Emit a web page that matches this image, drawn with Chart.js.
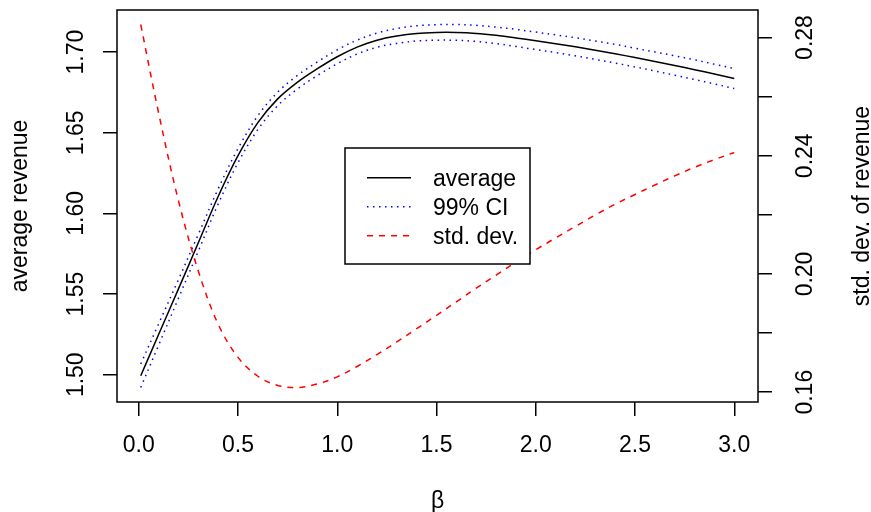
<!DOCTYPE html>
<html>
<head>
<meta charset="utf-8">
<script src="https://cdn.jsdelivr.net/npm/chart.js@4.4.1/dist/chart.umd.min.js"></script>
<style>
  html, body { margin: 0; padding: 0; background: #fff; }
  #wrap { width: 871px; height: 512px; }
</style>
</head>
<body>
<div id="wrap"><canvas id="chart" width="871" height="512"></canvas></div>
<script>
// values
const beta = [0.01, 0.1, 0.2, 0.3, 0.4, 0.5, 0.6, 0.7, 0.8, 0.9, 1.0, 1.1, 1.2, 1.3, 1.4, 1.5,
              1.6, 1.7, 1.8, 1.9, 2.0, 2.1, 2.2, 2.3, 2.4, 2.5, 2.6, 2.7, 2.8, 2.9, 3.0];
const avgRevenue = [1.4994, 1.5249, 1.5532, 1.5818, 1.6105, 1.6358, 1.6563, 1.6710, 1.6814, 1.6897,
                    1.6971, 1.7031, 1.7074, 1.7100, 1.7116, 1.7122, 1.7122, 1.7116, 1.7104, 1.7088,
                    1.7070, 1.7052, 1.7033, 1.7012, 1.6990, 1.6966, 1.6942, 1.6917, 1.6891, 1.6864, 1.6836];
const ciLower = [1.4921, 1.5183, 1.5474, 1.5766, 1.6058, 1.6314, 1.6520, 1.6668, 1.6772, 1.6855,
                 1.6928, 1.6988, 1.7030, 1.7054, 1.7069, 1.7074, 1.7073, 1.7066, 1.7053, 1.7035,
                 1.7016, 1.6997, 1.6977, 1.6955, 1.6932, 1.6908, 1.6883, 1.6857, 1.6830, 1.6803, 1.6774];
const ciUpper = [1.5067, 1.5315, 1.5590, 1.5870, 1.6152, 1.6402, 1.6606, 1.6752, 1.6856, 1.6939,
                 1.7014, 1.7074, 1.7118, 1.7146, 1.7163, 1.7170, 1.7171, 1.7166, 1.7155, 1.7141,
                 1.7124, 1.7107, 1.7089, 1.7069, 1.7048, 1.7024, 1.7001, 1.6977, 1.6952, 1.6925, 1.6898];
const sdRevenue = [0.2844, 0.2545, 0.2248, 0.2010, 0.1830, 0.1718, 0.1654, 0.1623, 0.1616, 0.1628,
                   0.1652, 0.1687, 0.1727, 0.1770, 0.1815, 0.1860, 0.1906, 0.1952, 0.1996, 0.2040,
                   0.2082, 0.2122, 0.2161, 0.2200, 0.2236, 0.2269, 0.2301, 0.2332, 0.2361, 0.2387, 0.2411];

const xTicks = [0, 0.5, 1.0, 1.5, 2.0, 2.5, 3.0];
const yTicks = [1.50, 1.55, 1.60, 1.65, 1.70];
const y2Ticks = [0.16, 0.18, 0.20, 0.22, 0.24, 0.26, 0.28];
const y2Labels = [0.16, 0.20, 0.24, 0.28];
const legendLabels = ["average", "99% CI", "std. dev."];

const FONT = '23px "Liberation Sans", Arial, sans-serif';
const LINE = 28; // one margin line, px

// R style axis range: data range plus 4% on each side
const pad = (lo, hi) => [lo - (hi - lo) * 0.04, hi + (hi - lo) * 0.04];
const xr = pad(Math.min(...beta), Math.max(...beta));
const yr = pad(Math.min(...ciLower), Math.max(...ciUpper));
const y2r = pad(Math.min(...sdRevenue), Math.max(...sdRevenue));

const pts = ys => beta.map((b, i) => ({ x: b, y: ys[i] }));

const lineSet = (label, ys, color, dash, axis, order) => ({
    label, data: pts(ys), yAxisID: axis, order,
    borderColor: color, borderWidth: 1.5, borderDash: dash,
    pointRadius: 0, fill: false, tension: 0.35
});

const datasets = [
    lineSet("average", avgRevenue, "#000000", [], "y", 1),
    lineSet("99% CI", ciLower, "#0000ff", [1.5, 4.5], "y", 2),
    lineSet("99% CI upper", ciUpper, "#0000ff", [1.5, 4.5], "y", 2),
    lineSet("std. dev.", sdRevenue, "#ff0000", [6, 6], "y2", 0),
];

const tickGrid = { display: true, drawOnChartArea: false, drawTicks: true, tickLength: 14,
                   color: "#000", lineWidth: 1.5 };

const rotText = (ctx, txt, x, y) => {
    ctx.save();
    ctx.translate(x, y);
    ctx.rotate(-Math.PI / 2);
    ctx.fillText(txt, 0, 0);
    ctx.restore();
};

const rFrame = {
    id: "rFrame",
    afterDraw(chart) {
        const { ctx, chartArea: a, scales } = chart;
        ctx.save();
        ctx.strokeStyle = "#000";
        ctx.lineWidth = 1.5;
        ctx.setLineDash([]);
        ctx.strokeRect(a.left, a.top, a.right - a.left, a.bottom - a.top);

        ctx.fillStyle = "#000";
        ctx.font = FONT;
        ctx.textAlign = "center";
        ctx.textBaseline = "alphabetic";
        xTicks.forEach(v => ctx.fillText(v.toFixed(1), scales.x.getPixelForValue(v), a.bottom + 1.8 * LINE));
        ctx.fillText("β", (a.left + a.right) / 2, a.bottom + 3.8 * LINE);

        yTicks.forEach(v => rotText(ctx, v.toFixed(2), a.left - 1.2 * LINE, scales.y.getPixelForValue(v)));
        rotText(ctx, "average revenue", a.left - 3.2 * LINE, (a.top + a.bottom) / 2);

        y2Labels.forEach(v => rotText(ctx, v.toFixed(2), a.right + 1.8 * LINE + 4, scales.y2.getPixelForValue(v)));
        rotText(ctx, "std. dev. of revenue", a.right + 3.8 * LINE + 5, (a.top + a.bottom) / 2);

        // legend
        const bx = 345, by = 148, bw = 185, bh = 116;
        ctx.fillStyle = "#fff";
        ctx.fillRect(bx, by, bw, bh);
        ctx.strokeRect(bx, by, bw, bh);
        const rows = [datasets[0], datasets[1], datasets[3]];
        rows.forEach((ds, i) => {
            const ly = 177.7 + i * 29;
            ctx.strokeStyle = ds.borderColor;
            ctx.lineWidth = ds.borderWidth;
            ctx.setLineDash(ds.borderDash);
            ctx.beginPath();
            ctx.moveTo(367, ly);
            ctx.lineTo(411, ly);
            ctx.stroke();
            ctx.setLineDash([]);
            ctx.fillStyle = "#000";
            ctx.textAlign = "left";
            ctx.fillText(legendLabels[i], 433, ly + 8.2);
        });
        ctx.restore();
    }
};

new Chart(document.getElementById("chart"), {
    type: "scatter",
    data: { datasets },
    options: {
        responsive: false,
        devicePixelRatio: 1,
        animation: false,
        showLine: true,
        layout: { padding: { top: 10, left: 0, right: 0, bottom: 0 } },
        plugins: { legend: { display: false }, tooltip: { enabled: false } },
        scales: {
            x: {
                type: "linear", position: "bottom", min: xr[0], max: xr[1],
                afterBuildTicks: s => { s.ticks = xTicks.map(v => ({ value: v })); },
                afterFit: s => { s.height = 110; },
                ticks: { display: false },
                grid: tickGrid,
                border: { display: false }
            },
            y: {
                type: "linear", position: "left", min: yr[0], max: yr[1],
                afterBuildTicks: s => { s.ticks = yTicks.map(v => ({ value: v })); },
                afterFit: s => { s.width = 117; },
                ticks: { display: false },
                grid: tickGrid,
                border: { display: false }
            },
            y2: {
                type: "linear", position: "right", min: y2r[0], max: y2r[1],
                afterBuildTicks: s => { s.ticks = y2Ticks.map(v => ({ value: v })); },
                afterFit: s => { s.width = 113; },
                ticks: { display: false },
                grid: tickGrid,
                border: { display: false }
            }
        }
    },
    plugins: [rFrame]
});
</script>
</body>
</html>
